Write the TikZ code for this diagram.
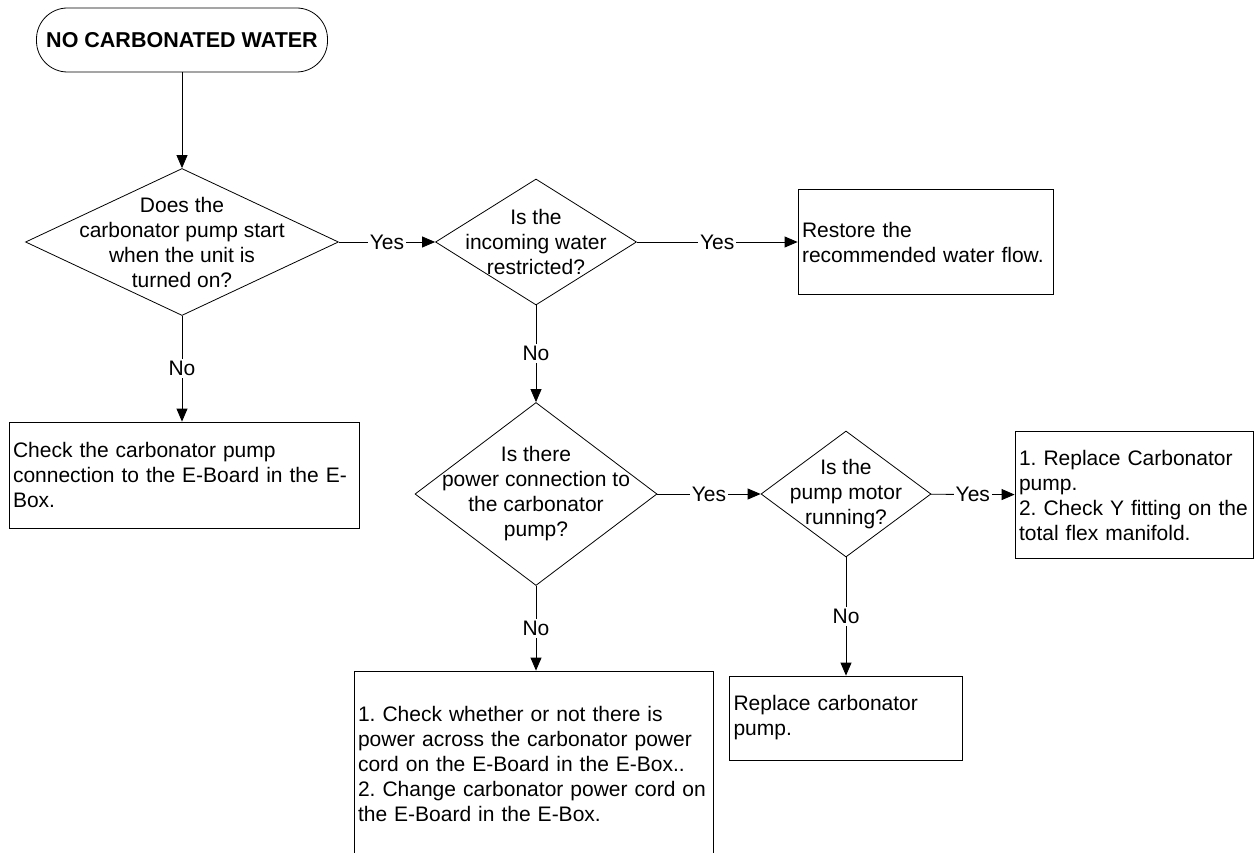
\documentclass[tikz,border=0pt]{standalone}
\usepackage{fontspec}
\setmainfont{Liberation Sans}
\frenchspacing
\usetikzlibrary{shapes.geometric,arrows.meta}
\begin{document}
\begin{tikzpicture}[x=1pt,y=-1pt,line width=0.8pt,
    every node/.style={font=\fontsize{21}{25}\selectfont},
    flow/.style={-{Triangle[length=13pt,width=11pt]}},
    lbl/.style={fill=white,inner sep=2pt},
    ask/.style n args={3}{diamond,draw,inner sep=0pt,minimum width=#1,minimum height=#2,
        label={[align=center]center:#3}},
    box/.style 2 args={draw,rectangle,inner xsep=4pt,inner ysep=0pt,text width=#1,minimum height=#2,align=left}]
    \useasboundingbox (0,0) rectangle (1258,853);
    \node[draw,rounded corners=31pt,minimum width=291pt,minimum height=64pt,
        font=\bfseries\fontsize{21.5}{25}\selectfont] (start) at (182,40) {NO CARBONATED WATER};
    \node[ask={313pt}{147pt}{Does the\\carbonator pump start\\when the unit is\\turned on?}] (d1) at (182,242) {};
    \node[ask={201pt}{126pt}{Is the\\incoming water\\restricted?}] (d2) at (536,242) {};
    \node[ask={242pt}{183pt}{Is there\\power connection to\\the carbonator\\pump?}] (d3) at (536,494) {};
    \node[ask={170pt}{126pt}{Is the\\pump motor\\running?}] (d4) at (846,494) {};
    \node[box={247pt}{105pt}] (restore) at (925.5,242) {Restore the\\recommended water flow.};
    \node[box={342pt}{106pt}] (chk) at (184,475) {Check the carbonator pump\\connection to the E-Board in the E-\\Box.};
    \node[box={230pt}{127pt}] (fix) at (1134,495) {1. Replace Carbonator\\pump.\\2. Check Y fitting on the\\total flex manifold.};
    \node[box={225pt}{84pt}] (replace) at (846,718) {Replace carbonator\\pump.};
    \node[box={351pt}{185pt}] (cord) at (533.5,763.5) {1. Check whether or not there is\\power across the carbonator power\\cord on the E-Board in the E-Box..\\2. Change carbonator power cord on\\the E-Board in the E-Box.};
    \draw[flow] (start) -- (d1);
    \draw[flow] (d1) -- node[lbl] {Yes} (d2);
    \draw[flow] (d2) -- node[lbl] {Yes} (restore);
    \draw[flow] (d1) -- node[lbl] {No} (d1 |- chk.north);
    \draw[flow] (d2) -- node[lbl] {No} (d3);
    \draw[flow] (d3) -- node[lbl] {Yes} (d4);
    \draw[flow] (d4) -- node[lbl] {Yes} (fix);
    \draw[flow] (d3) -- node[lbl] {No} (d3 |- cord.north);
    \draw[flow] (d4) -- node[lbl] {No} (replace);
\end{tikzpicture}
\end{document}
